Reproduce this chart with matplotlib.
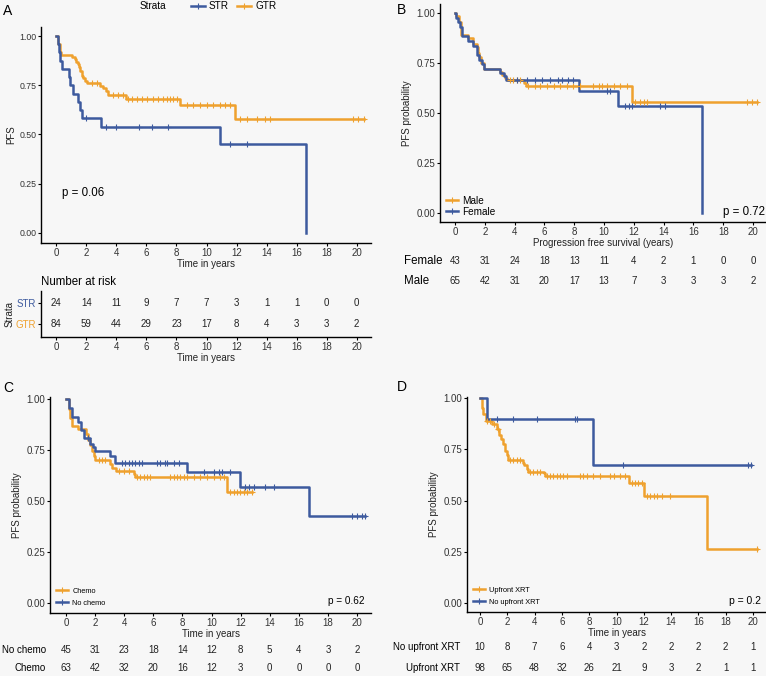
import numpy as np
import matplotlib
matplotlib.use("Agg")
import matplotlib.pyplot as plt
from matplotlib.lines import Line2D
from matplotlib.transforms import blended_transform_factory

plt.rcParams['font.family'] = ['Liberation Sans', 'DejaVu Sans']

BLUE = "#3D5A9E"
ORANGE = "#EFA12E"
BG = "#F7F7F7"
FS = 7.0

times_ticks = [0, 2, 4, 6, 8, 10, 12, 14, 16, 18, 20]

# ---------------- Panel A: STR vs GTR ----------------
a_str_t = [0, 0.1, 0.2, 0.24, 0.4, 0.82, 0.9, 1.13, 1.42, 1.58, 1.69, 3.0, 10.9, 16.6]
a_str_s = [1.0, 0.958, 0.917, 0.875, 0.833, 0.792, 0.75, 0.708, 0.667, 0.625, 0.583, 0.54, 0.45, 0.0]
a_str_c = [1.95, 3.3, 4.0, 5.5, 6.4, 7.46, 11.56, 12.7]
a_gtr_t = [0, 0.13, 0.24, 0.31, 1.02, 1.24, 1.31, 1.47, 1.53, 1.58, 1.69, 1.8, 1.91, 2.02,
           2.9, 3.13, 3.3, 3.46, 4.64, 8.24, 11.9]
a_gtr_s = [1.0, 0.96, 0.92, 0.905, 0.893, 0.881, 0.869, 0.857, 0.845, 0.821, 0.797, 0.785,
           0.773, 0.76, 0.748, 0.735, 0.72, 0.70, 0.68, 0.65, 0.577]
a_gtr_c = [2.35, 2.69, 3.8, 4.13, 4.46, 4.79, 5.02, 5.35, 5.68, 6.02, 6.46, 6.79, 7.13, 7.35,
           7.57, 7.79, 8.01, 8.68, 9.12, 9.57, 10.01, 10.46, 10.9, 11.23, 11.56, 12.23, 12.67,
           13.34, 13.9, 14.23, 19.78, 20.11, 20.49]
a_risk_str = [24, 14, 11, 9, 7, 7, 3, 1, 1, 0, 0]
a_risk_gtr = [84, 59, 44, 29, 23, 17, 8, 4, 3, 3, 2]

# ---------------- Panel B: Female vs Male ----------------
b_fem_t = [0, 0.1, 0.2, 0.34, 0.45, 0.9, 1.19, 1.5, 1.63, 1.79, 1.95, 3.02, 3.29, 3.43,
           8.29, 10.93, 16.57]
b_fem_s = [1.0, 0.977, 0.953, 0.93, 0.884, 0.86, 0.837, 0.79, 0.767, 0.744, 0.72, 0.698,
           0.686, 0.665, 0.612, 0.533, 0.0]
b_fem_c = [4.14, 4.82, 5.38, 5.82, 6.38, 6.94, 7.17, 7.61, 7.95, 10.19, 10.41, 11.42, 11.65,
           11.87, 13.77, 14.11]
b_male_t = [0, 0.1, 0.25, 0.4, 0.9, 1.19, 1.46, 1.55, 1.63, 1.75, 1.95, 3.02, 3.14, 3.36,
            3.47, 4.64, 4.75, 11.9]
b_male_s = [1.0, 0.985, 0.954, 0.89, 0.875, 0.845, 0.83, 0.80, 0.78, 0.75, 0.72, 0.705,
            0.69, 0.675, 0.665, 0.65, 0.635, 0.555]
b_male_c = [3.7, 3.92, 4.14, 4.37, 4.93, 5.38, 5.71, 6.16, 6.61, 7.05, 7.5, 7.95, 8.4, 9.29,
            9.63, 9.85, 10.19, 10.64, 11.09, 11.53, 12.09, 12.43, 12.65, 12.88, 19.6, 19.93, 20.27]
b_risk_fem = [43, 31, 24, 18, 13, 11, 4, 2, 1, 0, 0]
b_risk_male = [65, 42, 31, 20, 17, 13, 7, 3, 3, 3, 2]

# ---------------- Panel C: Chemo vs No chemo ----------------
c_no_t = [0, 0.18, 0.41, 0.8, 1.03, 1.21, 1.67, 1.86, 2.02, 3.05, 3.39, 8.32, 11.94, 16.68]
c_no_s = [1.0, 0.955, 0.91, 0.885, 0.85, 0.81, 0.78, 0.765, 0.745, 0.72, 0.688, 0.64, 0.568, 0.425]
c_no_c = [1.5, 3.85, 4.08, 4.31, 4.54, 4.77, 4.99, 5.22, 6.25, 6.48, 6.83, 6.94, 7.4, 7.74,
          9.46, 10.15, 10.49, 10.72, 11.29, 12.33, 12.55, 12.9, 13.7, 14.27, 19.66, 20.0,
          20.34, 20.57]
c_ch_t = [0, 0.18, 0.3, 0.41, 0.8, 1.4, 1.49, 1.63, 1.79, 1.9, 2.02, 3.0, 3.16, 3.46, 4.7,
          4.76, 11.07]
c_ch_s = [1.0, 0.95, 0.905, 0.87, 0.855, 0.83, 0.80, 0.775, 0.745, 0.72, 0.70, 0.68, 0.66,
          0.645, 0.63, 0.62, 0.545]
c_ch_c = [2.25, 2.47, 2.7, 3.62, 3.96, 4.31, 4.88, 5.11, 5.34, 5.57, 5.8, 7.17, 7.4, 7.63,
          7.86, 8.09, 8.32, 8.77, 9.23, 9.69, 10.15, 10.61, 10.84, 11.29, 11.52, 11.75, 11.98,
          12.21, 12.44, 12.78]
c_risk_no = [45, 31, 23, 18, 14, 12, 8, 5, 4, 3, 2]
c_risk_ch = [63, 42, 32, 20, 16, 12, 3, 0, 0, 0, 0]

# ---------------- Panel D: Upfront XRT ----------------
d_no_t = [0, 0.54, 8.31]
d_no_s = [1.0, 0.9, 0.675]
d_no_c = [1.22, 2.44, 4.16, 6.97, 7.14, 10.46, 19.63, 19.85]
d_up_t = [0, 0.12, 0.24, 0.44, 0.86, 1.22, 1.42, 1.52, 1.71, 1.83, 1.96, 2.08, 3.13, 3.23,
          3.42, 3.55, 4.69, 4.77, 10.95, 11.98, 16.63]
d_up_s = [1.0, 0.95, 0.92, 0.89, 0.875, 0.85, 0.82, 0.80, 0.775, 0.74, 0.72, 0.70, 0.685,
          0.675, 0.655, 0.64, 0.632, 0.62, 0.585, 0.523, 0.263]
d_up_c = [0.5, 0.7, 1.0, 1.3, 2.2, 2.44, 2.69, 2.93, 3.67, 3.91, 4.16, 4.4, 4.89, 5.13, 5.38,
          5.62, 5.87, 6.11, 6.36, 7.33, 7.58, 7.82, 8.31, 8.8, 9.54, 9.78, 10.27, 10.64, 11.12,
          11.37, 11.61, 11.86, 12.22, 12.47, 12.71, 12.96, 13.33, 13.94, 20.29]
d_risk_no = [10, 8, 7, 6, 4, 3, 2, 2, 2, 2, 1]
d_risk_up = [98, 65, 48, 32, 26, 21, 9, 3, 2, 1, 1]

W, H = 766, 676
fig = plt.figure(figsize=(W / 100, H / 100), dpi=100, facecolor=BG)


def add_ax(l, t, r, b):
    ax = fig.add_axes([l / W, 1 - b / H, (r - l) / W, (b - t) / H])
    ax.set_facecolor(BG)
    return ax


def fx(x):
    return x / W


def fy(y):
    return 1 - y / H


def style_ax(ax, yfs=FS):
    for s in ['top', 'right']:
        ax.spines[s].set_visible(False)
    for s in ['left', 'bottom']:
        ax.spines[s].set_linewidth(1.0)
    ax.tick_params(length=2, width=0.8, labelsize=FS, pad=1.5, colors='black')
    ax.tick_params(axis='x', labelcolor='#333333')
    ax.tick_params(axis='y', labelcolor='#333333', labelsize=yfs)
    ax.set_xticks(times_ticks)
    ax.set_yticks([0, 0.25, 0.5, 0.75, 1.0])
    ax.set_yticklabels(['0.00', '0.25', '0.50', '0.75', '1.00'])


def draw_km(ax, t, s, cens, color):
    t = list(t)
    s = list(s)
    if s[-1] > 0:
        end = max(max(cens) if cens else t[-1], t[-1])
        t = t + [end]
        s = s + [s[-1]]
    ax.step(t, s, where='post', color=color, lw=1.8, clip_on=False, zorder=3)
    tt = np.array(t)
    ss = np.array(s)
    c = np.array(cens)
    idx = np.searchsorted(tt, c, side='right') - 1
    ax.plot(c, ss[idx], ls='none', marker='+', ms=4, mew=0.8, color=color,
            clip_on=False, zorder=4)


def risk_row(ax, ypix, values, color='#222222', size=FS):
    tr = blended_transform_factory(ax.transData, fig.transFigure)
    for tk, v in zip(times_ticks, values):
        ax.text(tk, fy(ypix), str(v), transform=tr, ha='center', va='center',
                fontsize=size, color=color)


def leg_handle(color):
    return Line2D([0], [0], color=color, lw=1.8, marker='+', ms=4, mew=0.8)


# ===== Panel A =====
axA = add_ax(41, 27, 371, 243)
style_ax(axA, yfs=6.3)
axA.set_xlim(-1.02, 20.95)
axA.set_ylim(-0.0508, 1.0457)
draw_km(axA, a_gtr_t, a_gtr_s, a_gtr_c, ORANGE)
draw_km(axA, a_str_t, a_str_s, a_str_c, BLUE)
axA.set_xlabel('Time in years', fontsize=FS, labelpad=0.5, color='#222222')
axA.set_ylabel('PFS', fontsize=FS, labelpad=2, color='#222222')
axA.text(0.35, 0.19, 'p = 0.06', fontsize=8.3)
fig.text(fx(140), fy(6), 'Strata', fontsize=7.2, va='center', ha='left')
fig.legend([leg_handle(BLUE), leg_handle(ORANGE)], ['STR', 'GTR'], ncol=2,
           loc='center left', bbox_to_anchor=(fx(191), fy(6)), fontsize=7.2,
           frameon=False, handlelength=1.4, columnspacing=0.8, handletextpad=0.4,
           borderpad=0, borderaxespad=0)
fig.text(fx(3), fy(11), 'A', fontsize=10, va='center', ha='left')

axAt = add_ax(41, 291, 371, 337)
for s in ['top', 'right']:
    axAt.spines[s].set_visible(False)
axAt.spines['left'].set_linewidth(1.0)
axAt.spines['bottom'].set_linewidth(1.0)
axAt.set_xlim(-1.02, 20.95)
axAt.set_ylim(-0.62, 1.571)
axAt.set_xticks(times_ticks)
axAt.set_yticks([1, 0])
axAt.set_yticklabels(['STR', 'GTR'])
for lbl, col in zip(axAt.get_yticklabels(), [BLUE, ORANGE]):
    lbl.set_color(col)
axAt.tick_params(length=2, width=0.8, labelsize=FS, pad=1.5)
axAt.tick_params(axis='x', labelcolor='#333333')
for tk, v1, v2 in zip(times_ticks, a_risk_str, a_risk_gtr):
    axAt.text(tk, 1, str(v1), ha='center', va='center', fontsize=FS, color='#222222')
    axAt.text(tk, 0, str(v2), ha='center', va='center', fontsize=FS, color='#222222')
axAt.set_xlabel('Time in years', fontsize=FS, labelpad=0.5, color='#222222')
axAt.set_ylabel('Strata', fontsize=FS, labelpad=1, color='#222222')
axAt.set_title('Number at risk', fontsize=8.3, loc='left', pad=4, x=0.0)

# ===== Panel B =====
axB = add_ax(440, 4, 766, 222)
style_ax(axB)
axB.set_xlim(-1.007, 20.87)
axB.set_ylim(-0.045, 1.045)
draw_km(axB, b_male_t, b_male_s, b_male_c, ORANGE)
draw_km(axB, b_fem_t, b_fem_s, b_fem_c, BLUE)
axB.set_xlabel('Progression free survival (years)', fontsize=FS, labelpad=0.5, color='#222222')
axB.set_ylabel('PFS probability', fontsize=FS, labelpad=3, color='#222222')
fig.text(fx(765), fy(212), 'p = 0.72', fontsize=8.3, ha='right', va='center')
axB.legend([leg_handle(ORANGE), leg_handle(BLUE)], ['Male', 'Female'],
           loc='lower left', bbox_to_anchor=(fx(446), fy(217)), bbox_transform=fig.transFigure,
           fontsize=7.2, frameon=False, handlelength=1.2, labelspacing=0.1,
           handletextpad=0.4, borderpad=0, borderaxespad=0)
fig.text(fx(397), fy(10), 'B', fontsize=10, va='center', ha='left')
fig.text(fx(404), fy(261), 'Female', fontsize=8.3, va='center', ha='left')
fig.text(fx(404), fy(281), 'Male', fontsize=8.3, va='center', ha='left')
risk_row(axB, 261, b_risk_fem)
risk_row(axB, 281, b_risk_male)

# ===== Panel C =====
axC = add_ax(50, 397, 371, 613)
style_ax(axC)
axC.set_xlim(-1.1, 20.96)
axC.set_ylim(-0.049, 1.0098)
draw_km(axC, c_ch_t, c_ch_s, c_ch_c, ORANGE)
draw_km(axC, c_no_t, c_no_s, c_no_c, BLUE)
axC.set_xlabel('Time in years', fontsize=FS, labelpad=0.5, color='#222222')
axC.set_ylabel('PFS probability', fontsize=FS, labelpad=3, color='#222222')
fig.text(fx(364), fy(601), 'p = 0.62', fontsize=7.2, ha='right', va='center')
axC.legend([leg_handle(ORANGE), leg_handle(BLUE)], ['Chemo', 'No chemo'],
           loc='lower left', bbox_to_anchor=(fx(56), fy(607)), bbox_transform=fig.transFigure,
           fontsize=5.3, frameon=False, handlelength=1.6, labelspacing=0.7,
           handletextpad=0.6, borderpad=0, borderaxespad=0)
fig.text(fx(3), fy(388), 'C', fontsize=10, va='center', ha='left')
fig.text(fx(46), fy(650), 'No chemo', fontsize=FS, va='center', ha='right')
fig.text(fx(46), fy(668), 'Chemo', fontsize=FS, va='center', ha='right')
risk_row(axC, 650, c_risk_no)
risk_row(axC, 668, c_risk_ch)

# ===== Panel D =====
axD = add_ax(467, 397, 766, 612)
style_ax(axD)
axD.set_xlim(-0.952, 20.95)
axD.set_ylim(-0.044, 1.005)
draw_km(axD, d_up_t, d_up_s, d_up_c, ORANGE)
draw_km(axD, d_no_t, d_no_s, d_no_c, BLUE)
axD.set_xlabel('Time in years', fontsize=FS, labelpad=0.5, color='#222222')
axD.set_ylabel('PFS probability', fontsize=FS, labelpad=3, color='#222222')
fig.text(fx(761), fy(601), 'p = 0.2', fontsize=7.5, ha='right', va='center')
axD.legend([leg_handle(ORANGE), leg_handle(BLUE)], ['Upfront XRT', 'No upfront XRT'],
           loc='lower left', bbox_to_anchor=(fx(473), fy(606)), bbox_transform=fig.transFigure,
           fontsize=5.3, frameon=False, handlelength=1.6, labelspacing=0.7,
           handletextpad=0.6, borderpad=0, borderaxespad=0)
fig.text(fx(397), fy(387), 'D', fontsize=10, va='center', ha='left')
fig.text(fx(460), fy(647), 'No upfront XRT', fontsize=FS, va='center', ha='right')
fig.text(fx(460), fy(668), 'Upfront XRT', fontsize=FS, va='center', ha='right')
risk_row(axD, 647, d_risk_no)
risk_row(axD, 668, d_risk_up)

fig.savefig('out.png', dpi=100, facecolor=BG)
